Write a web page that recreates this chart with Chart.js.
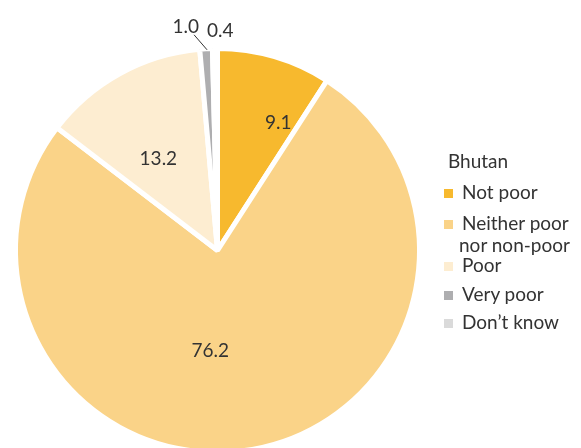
<!DOCTYPE html>
<html>
<head>
<meta charset="utf-8">
<script src="https://cdn.jsdelivr.net/npm/chart.js@4.4.1/dist/chart.umd.min.js"></script>
<style>
  html, body { margin: 0; padding: 0; background: #fff; overflow: hidden; }
  body { width: 581px; height: 448px; position: relative; font-family: Lato, "Open Sans", sans-serif; }
  #wrap { position: absolute; left: 0; top: 0; width: 581px; height: 500px; }
  #legend { position: absolute; left: 444px; top: 150px; color: #333; font-size: 19px; }
  #legend .title { margin-left: 4px; height: 22px; line-height: 22px; margin-bottom: 9px; }
  #legend .item { position: relative; padding-left: 18px; line-height: 22px; }
  #legend .sw { position: absolute; left: 0; width: 9px; height: 9px; }
</style>
</head>
<body>
<div id="wrap"><canvas id="chart"></canvas></div>
<div id="legend"></div>
<script>
// Self-assessed household welfare, Bhutan (% of households)
const seriesTitle = "Bhutan";
const categories = ["Not poor", "Neither poor\nnor non-poor", "Poor", "Very poor", "Don\u2019t know"];
const shares = [9.1, 76.2, 13.2, 1.0, 0.4];
const colors = ["#F7B92E", "#FAD388", "#FDEDD1", "#AEAEB0", "#DADADA"];

// label placement: fraction of radius, angular nudge (deg); "out" = outside with leader
const labelPlace = [
  { r: 0.70, nudge: 9 },
  { r: 0.50, nudge: 14 },
  { r: 0.54, nudge: -4 },
  { out: true, dx: -10, dy: -16, line: true },
  { out: true, dx: -6, dy: -18, line: false }
];

const valueLabels = {
  id: "valueLabels",
  afterDatasetsDraw(chart) {
    const ctx = chart.ctx;
    const meta = chart.getDatasetMeta(0);
    ctx.save();
    ctx.fillStyle = "#333";
    ctx.strokeStyle = "#333";
    ctx.font = "19px Lato, 'Open Sans', sans-serif";
    ctx.textBaseline = "middle";
    meta.data.forEach((arc, i) => {
      const p = labelPlace[i];
      const text = shares[i].toFixed(1);
      const mid = (arc.startAngle + arc.endAngle) / 2;
      if (!p.out) {
        const a = mid + p.nudge * Math.PI / 180;
        const d = arc.outerRadius * p.r;
        ctx.textAlign = "center";
        ctx.fillText(text, arc.x + Math.cos(a) * d, arc.y + Math.sin(a) * d);
      } else {
        const ex = arc.x + Math.cos(mid) * arc.outerRadius;
        const ey = arc.y + Math.sin(mid) * arc.outerRadius;
        const lx = ex + p.dx, ly = ey + p.dy;
        if (p.line) {
          ctx.lineWidth = 1;
          ctx.beginPath();
          ctx.moveTo(ex + 1, ey + 1);
          ctx.lineTo(lx - 2, ly + 2);
          ctx.stroke();
          ctx.textAlign = "right";
          ctx.fillText(text, lx + 3, ly - 6);
        } else {
          ctx.textAlign = "left";
          ctx.fillText(text, lx - 2, ly);
        }
      }
    });
    ctx.restore();
  }
};

new Chart(document.getElementById("chart"), {
  type: "pie",
  data: {
    labels: categories,
    datasets: [{
      data: shares,
      backgroundColor: colors,
      borderColor: "#ffffff",
      borderWidth: 5,
      hoverOffset: 0
    }]
  },
  options: {
    responsive: true,
    maintainAspectRatio: false,
    animation: false,
    events: [],
    layout: { padding: { left: 13, top: 46, right: 159, bottom: 45 } },
    plugins: {
      legend: { display: false },
      tooltip: { enabled: false }
    }
  },
  plugins: [valueLabels]
});

// legend beside the pie
const legendEl = document.getElementById("legend");
const t = document.createElement("div");
t.className = "title";
t.textContent = seriesTitle;
legendEl.appendChild(t);
const gaps = [0, 9, -2, 7, 6];
categories.forEach((c, i) => {
  const item = document.createElement("div");
  item.className = "item";
  item.style.marginTop = gaps[i] + "px";
  const sw = document.createElement("span");
  sw.className = "sw";
  sw.style.background = colors[i];
  sw.style.top = "8px";
  item.appendChild(sw);
  c.split("\n").forEach((ln, k) => {
    const d = document.createElement("div");
    d.textContent = ln;
    if (k > 0) d.style.marginLeft = "-3px";
    item.appendChild(d);
  });
  legendEl.appendChild(item);
});
</script>
</body>
</html>
